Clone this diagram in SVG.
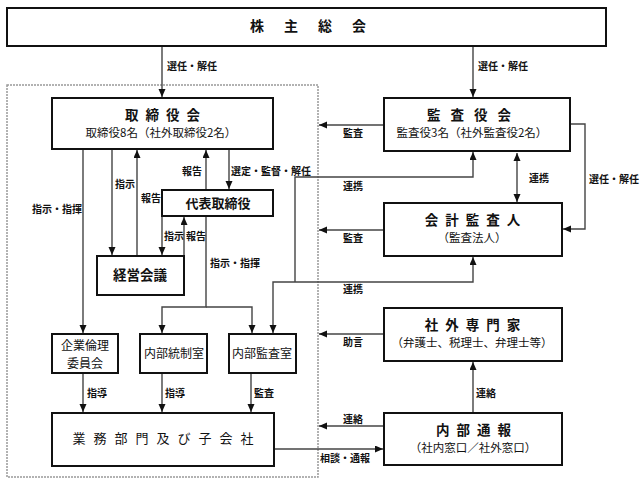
<svg xmlns="http://www.w3.org/2000/svg" width="643" height="485" viewBox="0 0 643 485">
<style>
.box{fill:#fff;stroke:#111;stroke-width:2}
.ln{fill:none;stroke:#444;stroke-width:1.4}
.t{font-family:"Noto Sans CJK JP","Noto Sans",sans-serif;fill:#111}
.ti{font-size:13.5px;font-weight:bold;text-anchor:middle}
.st{font-size:11.5px;text-anchor:middle}
.nm{font-size:12px;text-anchor:middle}
.lb{font-size:10px;font-weight:bold}
</style>
<defs>
<marker id="ah" markerUnits="userSpaceOnUse" markerWidth="9" markerHeight="8" refX="8" refY="3.5" orient="auto">
<path d="M0,0 L8,3.5 L0,7 z" fill="#111"/>
</marker>
<marker id="as" markerUnits="userSpaceOnUse" markerWidth="9" markerHeight="8" refX="0" refY="3.5" orient="auto">
<path d="M8,0 L0,3.5 L8,7 z" fill="#111"/>
</marker>
</defs>
<rect x="7" y="85" width="311" height="392" fill="none" stroke="#999" stroke-width="1.5" stroke-dasharray="2 1"/>
<g id="connectors">
<path class="ln" d="M162,46 V97" marker-end="url(#ah)"/>
<path class="ln" d="M473,46 V97" marker-end="url(#ah)"/>
<path class="ln" d="M384,125 H319" marker-end="url(#ah)"/>
<path class="ln" d="M517,153 V202" marker-start="url(#as)" marker-end="url(#ah)"/>
<path class="ln" d="M570,124 H585 V229 H563" marker-end="url(#ah)"/>
<path class="ln" d="M384,230 H319" marker-end="url(#ah)"/>
<path class="ln" d="M384,334 H319" marker-end="url(#ah)"/>
<path class="ln" d="M473,413 V362" marker-end="url(#ah)"/>
<path class="ln" d="M384,426 H319" marker-end="url(#ah)"/>
<path class="ln" d="M274,449 H383" marker-end="url(#ah)"/>
<path class="ln" d="M83,149 V333" marker-end="url(#ah)"/>
<path class="ln" d="M112,149 V255" marker-end="url(#ah)"/>
<path class="ln" d="M137,256 V150" marker-end="url(#ah)"/>
<path class="ln" d="M206,190 V150" marker-end="url(#ah)"/>
<path class="ln" d="M229,149 V189" marker-end="url(#ah)"/>
<path class="ln" d="M162,216 V255" marker-end="url(#ah)"/>
<path class="ln" d="M184,256 V217" marker-end="url(#ah)"/>
<path class="ln" d="M206,216 V307 H162 V333" marker-end="url(#ah)"/>
<path class="ln" d="M206,307 H252 V333" marker-end="url(#ah)"/>
<path class="ln" d="M295,282 H273 V333" marker-end="url(#ah)"/>
<path class="ln" d="M295,282 H473 V257" marker-end="url(#ah)"/>
<path class="ln" d="M295,282 V177 H473 V152" marker-end="url(#ah)"/>
<path class="ln" d="M83,373 V412" marker-end="url(#ah)"/>
<path class="ln" d="M162,373 V412" marker-end="url(#ah)"/>
<path class="ln" d="M251,373 V412" marker-end="url(#ah)"/>
<text class="t lb" x="167" y="70">選任・解任</text>
<text class="t lb" x="478" y="70">選任・解任</text>
<text class="t lb" x="343" y="137">監査</text>
<text class="t lb" x="343" y="190">連携</text>
<text class="t lb" x="529" y="182">連携</text>
<text class="t lb" x="589" y="183">選任・解任</text>
<text class="t lb" x="343" y="242">監査</text>
<text class="t lb" x="343" y="293">連携</text>
<text class="t lb" x="343" y="346">助言</text>
<text class="t lb" x="476" y="397">連絡</text>
<text class="t lb" x="343" y="423">連絡</text>
<text class="t lb" x="320" y="462">相談・通報</text>
<text class="t lb" x="32" y="213">指示・指揮</text>
<text class="t lb" x="115" y="188">指示</text>
<text class="t lb" x="141" y="202">報告</text>
<text class="t lb" x="182" y="175">報告</text>
<text class="t lb" x="231" y="175">選定・監督・解任</text>
<text class="t lb" x="164" y="240">指示</text>
<text class="t lb" x="186" y="240">報告</text>
<text class="t lb" x="210" y="267">指示・指揮</text>
<text class="t lb" x="87" y="397">指導</text>
<text class="t lb" x="165" y="397">指導</text>
<text class="t lb" x="254" y="397">監査</text>
</g>
<g id="kabunushi">
<rect class="box" x="7" y="8" width="599" height="38"/>
<text class="t ti" x="318" y="31" style="font-size:14px" letter-spacing="20">株主総会</text>
</g>
<g id="torishimariyakukai">
<rect class="box" x="52" y="98" width="221" height="51"/>
<text class="t ti" x="166" y="120" letter-spacing="7">取締役会</text>
<text class="t st" x="161" y="137">取締役8名（社外取締役2名）</text>
</g>
<g id="kansayakukai">
<rect class="box" x="384" y="98" width="186" height="53"/>
<text class="t ti" x="474" y="120" letter-spacing="10">監査役会</text>
<text class="t st" x="472" y="137">監査役3名（社外監査役2名）</text>
</g>
<g id="kaikeikansanin">
<rect class="box" x="384" y="203" width="178" height="53"/>
<text class="t ti" x="476" y="225" letter-spacing="7">会計監査人</text>
<text class="t st" x="472" y="242">（監査法人）</text>
</g>
<g id="shagaisenmonka">
<rect class="box" x="384" y="308" width="178" height="53"/>
<text class="t ti" x="476" y="330" letter-spacing="7">社外専門家</text>
<text class="t st" x="472" y="347">（弁護士、税理士、弁理士等）</text>
</g>
<g id="naibutsuho">
<rect class="box" x="384" y="413" width="178" height="52"/>
<text class="t ti" x="477" y="435" letter-spacing="7">内部通報</text>
<text class="t st" x="473" y="452">（社内窓口／社外窓口）</text>
</g>
<g id="daihyo">
<rect class="box" x="162" y="190" width="111" height="26"/>
<text class="t ti" x="218" y="208" style="font-size:13px">代表取締役</text>
</g>
<g id="keiei">
<rect class="box" x="97" y="256" width="87" height="39"/>
<text class="t ti" x="140" y="280">経営会議</text>
</g>
<g id="rinri">
<rect class="box" x="52" y="334" width="66" height="39"/>
<text class="t nm" x="85" y="350">企業倫理</text>
<text class="t nm" x="85" y="367.5">委員会</text>
</g>
<g id="tosei">
<rect class="box" x="140" y="334" width="67" height="39"/>
<text class="t nm" x="174" y="358">内部統制室</text>
</g>
<g id="naibukansa">
<rect class="box" x="229" y="334" width="67" height="39"/>
<text class="t nm" x="262" y="358">内部監査室</text>
</g>
<g id="gyomu">
<rect class="box" x="52" y="413" width="222" height="53"/>
<text class="t nm" x="167" y="443" style="font-size:13px" letter-spacing="8">業務部門及び子会社</text>
</g>
</svg>
